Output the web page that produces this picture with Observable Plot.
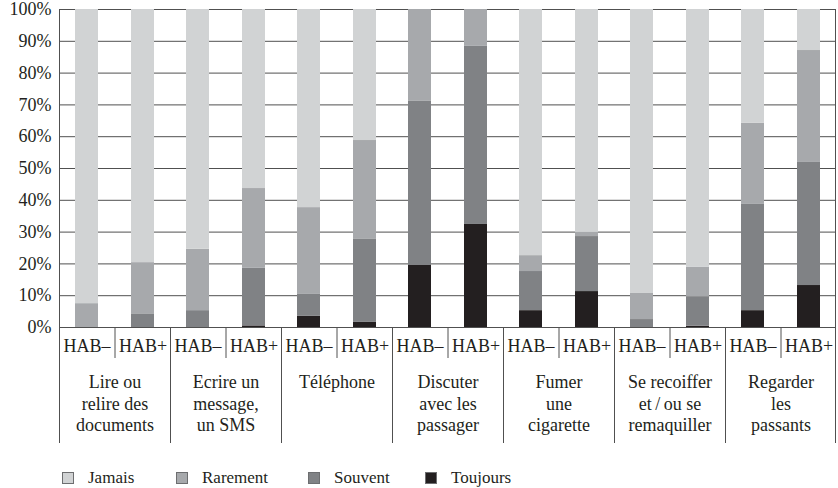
<!DOCTYPE html>
<html>
<head>
<meta charset="utf-8">
<script src="https://cdn.jsdelivr.net/npm/d3@7"></script>
<script src="https://cdn.jsdelivr.net/npm/@observablehq/plot@0.6"></script>
<style>
  html, body { margin: 0; padding: 0; background: #fff; }
  #wrap { position: relative; width: 838px; height: 488px; font-family: "Liberation Serif", serif; color: #231f20; }
  .item { position: absolute; top: 468px; display: flex; align-items: center; font-size: 17px; }
  .sw { width: 10px; height: 10px; border: 1px solid #6d6e70; margin-right: 14px; }
</style>
</head>
<body>
<div id="wrap"></div>
<script>
// ---- data ----
const groups = [
  "Lire ou\nrelire des\ndocuments",
  "Ecrire un\nmessage,\nun SMS",
  "Téléphone",
  "Discuter\navec les\npassager",
  "Fumer\nune\ncigarette",
  "Se recoiffer\net\u2009/\u2009ou se\nremaquiller",
  "Regarder\nles\npassants"
];
const habs = ["HAB–", "HAB+"];
// stacking order bottom -> top
const series = ["Toujours", "Souvent", "Rarement", "Jamais"];
// one value per bar: (group, HAB–), (group, HAB+), ...
const toujours = [0, 0, 0, 0.5, 3.5, 1.6, 19.5, 32.4, 5.3, 11.3, 0, 0.4, 5.3, 13.2];
const souvent  = [0, 4.1, 5.3, 18.1, 6.9, 26.1, 51.6, 56.0, 12.3, 17.3, 2.5, 9.3, 33.4, 38.7];
const rarement = [7.5, 16.3, 19.3, 25.1, 27.3, 31.1, 28.9, 11.6, 5.0, 1.3, 8.2, 9.2, 25.5, 35.2];
const jamais   = [92.5, 79.6, 75.4, 56.3, 62.3, 41.2, 0, 0, 77.4, 70.1, 89.3, 81.1, 35.8, 12.9];
const yTicks = [0, 10, 20, 30, 40, 50, 60, 70, 80, 90, 100];
const legendOrder = ["Jamais", "Rarement", "Souvent", "Toujours"];
const legendColors = ["#d1d3d4", "#a7a9ac", "#808285", "#231f20"];

// ---- build table ----
const valuesBySeries = {Toujours: toujours, Souvent: souvent, Rarement: rarement, Jamais: jamais};
const data = [];
groups.forEach((g, gi) => habs.forEach((h, hi) => {
  const i = gi * 2 + hi;
  series.forEach(s => data.push({group: g, hab: h, resp: s, value: valuesBySeries[s][i]}));
}));

const font = "Liberation Serif";
const lineColor = "#505050";

const chart = Plot.plot({
  width: 838,
  height: 452,
  marginLeft: 58,
  marginRight: 1,
  marginTop: 9,
  marginBottom: 125,
  style: {fontFamily: font, fontSize: "18px", color: "#231f20", background: "#fff"},
  fx: {domain: groups, padding: 0, label: null},
  x: {domain: habs, paddingInner: 0.594, paddingOuter: 0.28, label: null},
  y: {domain: [0, 100], label: null},
  color: {domain: legendOrder, range: legendColors},
  marks: [
    Plot.ruleY(yTicks, {stroke: lineColor, strokeWidth: 1}),
    Plot.barY(data, {fx: "group", x: "hab", y: "value", fill: "resp"}),
    Plot.ruleY([0], {stroke: lineColor, strokeWidth: 1}),
    Plot.axisY({ticks: yTicks, tickFormat: d => d + "%", tickSize: 0, tickPadding: 8, label: null, fontSize: 18}),
    Plot.axisX({anchor: "bottom", tickSize: 0, tickPadding: 12, label: null, fontSize: 18}),
    Plot.axisFx({anchor: "bottom", tickSize: 31, tickFormat: () => "", label: null, stroke: lineColor}),
    Plot.axisFx({anchor: "bottom", tickSize: 0, tickPadding: 46, label: null, fontSize: 18, lineHeight: 1.17})
  ]
});

document.getElementById("wrap").appendChild(chart);

// group separators below the axis and the outer frame, derived from the scales
const fxS = chart.scale("fx");
const yS = chart.scale("y");
const y0 = yS.apply(0);
const y100 = yS.apply(100);
const dom = fxS.domain;
const edges = dom.map(d => fxS.apply(d));
edges.push(fxS.apply(dom[dom.length - 1]) + fxS.bandwidth);
const bottom = y0 + 116;
const svg = d3.select(chart);
const g = svg.append("g").attr("stroke", lineColor).attr("stroke-width", 1);
edges.forEach((x, i) => {
  const xx = Math.round(x) + (i === edges.length - 1 ? -0.5 : 0.5);
  const top = (i === 0 || i === edges.length - 1) ? y100 : y0;
  g.append("line").attr("x1", xx).attr("x2", xx).attr("y1", top).attr("y2", bottom);
});

// legend
const lefts = [62, 176, 308, 425];
legendOrder.forEach((name, i) => {
  const item = document.createElement("div");
  item.className = "item";
  item.style.left = lefts[i] + "px";
  const sw = document.createElement("div");
  sw.className = "sw";
  sw.style.background = legendColors[i];
  const t = document.createElement("span");
  t.textContent = name;
  item.appendChild(sw);
  item.appendChild(t);
  document.getElementById("wrap").appendChild(item);
});
</script>
</body>
</html>
